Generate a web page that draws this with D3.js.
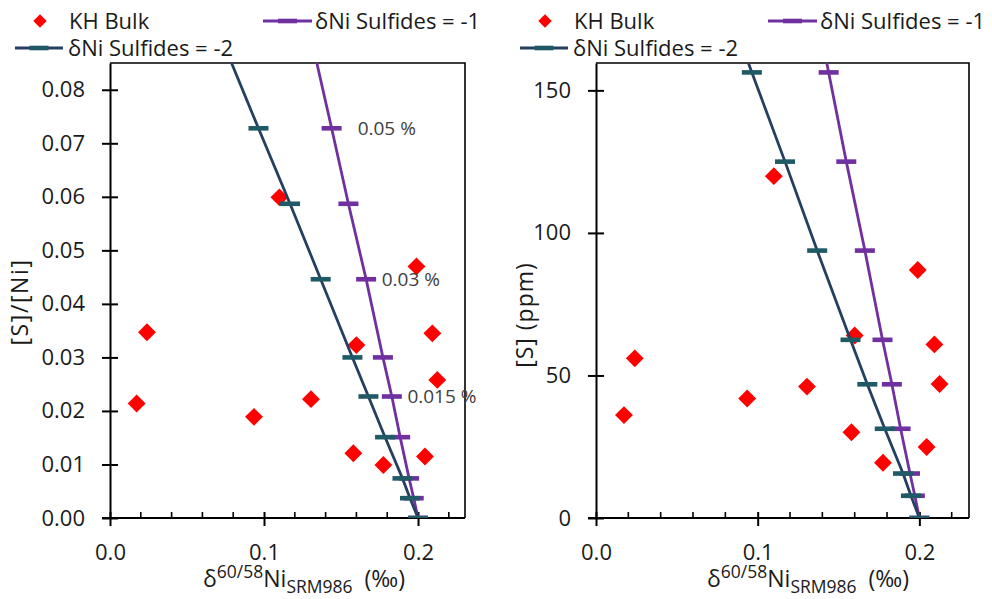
<!DOCTYPE html>
<html>
<head>
<meta charset="utf-8">
<script src="https://cdn.jsdelivr.net/npm/d3@7"></script>
<style>
body { margin: 0; background: #fff; }
svg { font-family: "Open Sans", sans-serif; }
</style>
</head>
<body>
<div id="chart"></div>
<script>
// KH bulk samples
var bulkDelta = [0.0173, 0.0240, 0.0935, 0.1100, 0.1305, 0.1580, 0.1600, 0.1775, 0.1990, 0.2045, 0.2093, 0.2125];
var bulkSNi   = [0.0214, 0.0347, 0.0189, 0.0599, 0.0222, 0.0121, 0.0323, 0.0099, 0.0470, 0.0115, 0.0345, 0.0258];
var bulkS     = [36.1, 56.0, 41.9, 119.9, 46.1, 30.1, 64.0, 19.4, 87.0, 24.9, 60.9, 47.0];

// sulfide removal model (sulfide %, last point runs off the top)
var sulfidePct   = [0, 0.0025, 0.005, 0.01, 0.015, 0.02, 0.03, 0.04, 0.05, 0.06];
var modelSNi     = [0, 0.0037, 0.0074, 0.0151, 0.0227, 0.0300, 0.0446, 0.0587, 0.0728, 0.0869];
var modelS       = [0, 7.8, 15.6, 31.3, 46.9, 62.5, 93.8, 125.0, 156.3, 187.5];
var modelDelta1  = [0.200, 0.1972, 0.1942, 0.1884, 0.1830, 0.1772, 0.1663, 0.1548, 0.1439, 0.1328];
var modelDelta2  = [0.200, 0.1948, 0.1899, 0.1786, 0.1678, 0.1574, 0.1368, 0.1169, 0.0964, 0.0762];

// % labels next to the -1 curve (left panel)
var pctLabelText  = ["0.05 %", "0.03 %", "0.015 %"];
var pctLabelIdx   = [8, 6, 4];
var pctLabelDelta = [0.1608, 0.1764, 0.1931];

var xMajor = [0, 0.1, 0.2];
var xMinor = [0.02, 0.04, 0.06, 0.08, 0.12, 0.14, 0.16, 0.18, 0.22];
var yTicksLeft  = [0, 0.01, 0.02, 0.03, 0.04, 0.05, 0.06, 0.07, 0.08];
var yTicksRight = [0, 50, 100, 150];

var purple = "#7030A0", navy = "#243F5F", teal = "#1F5A66", red = "#FF0000", ink = "#1a1a1a";

var svg = d3.select("#chart").append("svg")
    .attr("width", 992)
    .attr("height", 599);

function drawPanel(p) {
    var g = svg.append("g");
    var x = d3.scaleLinear().domain([0, p.xMax]).range([p.left, p.right]);
    var y = d3.scaleLinear().domain([0, p.yMax]).range([p.bottom, p.top]);

    g.append("clipPath").attr("id", p.id)
      .append("rect")
      .attr("x", p.left).attr("y", p.top)
      .attr("width", p.right - p.left).attr("height", p.bottom - p.top);

    // top + right frame
    g.append("path")
      .attr("d", "M" + p.left + "," + p.top + "H" + p.right + "V" + p.bottom)
      .attr("fill", "none").attr("stroke", "#000").attr("stroke-width", 1.6);

    // y axis
    var ya = g.append("g")
      .attr("transform", "translate(" + p.left + ",0)")
      .call(d3.axisLeft(y).tickValues(p.yTicks).tickFormat(p.yFmt).tickSizeOuter(0));
    ya.select(".domain").attr("stroke", "#000").attr("stroke-width", 2);
    ya.selectAll(".tick line").attr("x1", 8).attr("x2", -8).attr("stroke", "#000").attr("stroke-width", 2);
    ya.selectAll(".tick text").attr("x", -25).attr("font-size", 22).attr("fill", ink)
      .attr("font-family", "Open Sans, sans-serif");

    // x axis at y = 0
    var xa = g.append("g")
      .attr("transform", "translate(0," + p.bottom + ")")
      .call(d3.axisBottom(x).tickValues(xMajor).tickFormat(d3.format(".1f")).tickSizeOuter(0));
    xa.select(".domain").attr("d", "M" + (p.left - 8) + ",0H" + p.right).attr("stroke", "#000").attr("stroke-width", 2);
    xa.selectAll(".tick line").attr("y1", -6).attr("y2", 8).attr("stroke", "#000").attr("stroke-width", 2);
    xa.selectAll(".tick text").attr("y", 26).attr("font-size", 22).attr("fill", ink)
      .attr("font-family", "Open Sans, sans-serif");

    g.append("g").selectAll("line")
      .data(xMinor).enter().append("line")
      .attr("x1", function (d) { return x(d); })
      .attr("x2", function (d) { return x(d); })
      .attr("y1", p.bottom - 6).attr("y2", p.bottom)
      .attr("stroke", "#000").attr("stroke-width", 1.6);

    // bulk samples
    g.append("g").selectAll("path")
      .data(d3.range(bulkDelta.length)).enter().append("path")
      .attr("d", d3.symbol(d3.symbolSquare, 160))
      .attr("transform", function (i) { return "translate(" + x(bulkDelta[i]) + "," + y(p.bulkY[i]) + ") rotate(45)"; })
      .attr("fill", red);

    // model curves, -1 then -2 on top
    var series = [
        { dl: modelDelta1, line: purple, mark: purple },
        { dl: modelDelta2, line: navy, mark: teal }
    ];
    series.forEach(function (s) {
        var pts = d3.range(sulfidePct.length);
        var line = d3.line()
            .x(function (i) { return x(s.dl[i]); })
            .y(function (i) { return y(p.modelY[i]); });
        var sg = g.append("g").attr("clip-path", "url(#" + p.id + ")");
        sg.append("path").datum(pts)
          .attr("d", line)
          .attr("fill", "none").attr("stroke", s.line).attr("stroke-width", 2.8);
        sg.selectAll("rect")
          .data(pts).enter().append("rect")
          .attr("x", function (i) { return x(s.dl[i]) - 10; })
          .attr("y", function (i) { return y(p.modelY[i]) - 2.3; })
          .attr("width", 20).attr("height", 4.6)
          .attr("fill", s.mark);
    });

    if (p.labels) {
        g.append("g").selectAll("text")
          .data(d3.range(pctLabelText.length)).enter().append("text")
          .attr("x", function (i) { return x(pctLabelDelta[i]); })
          .attr("y", function (i) { return y(modelSNi[pctLabelIdx[i]]); })
          .attr("dy", "0.35em")
          .attr("font-size", 19).attr("fill", "#404040")
          .text(function (i) { return pctLabelText[i]; });
    }

    // y title
    g.append("text")
      .attr("transform", "translate(" + p.yTitleX + "," + p.yTitleY + ") rotate(-90)")
      .attr("text-anchor", "middle")
      .attr("dy", "0.35em")
      .attr("font-size", 23).attr("letter-spacing", p.yTitleSpacing).attr("fill", ink)
      .text(p.yTitle);

    // x title
    var xt = g.append("text")
      .attr("x", p.xTitleX).attr("y", 587)
      .attr("font-size", 23).attr("fill", ink);
    xt.append("tspan").text("δ");
    xt.append("tspan").attr("font-size", 17.5).attr("dy", -9).text("60/58");
    xt.append("tspan").attr("dy", 9).text("Ni");
    xt.append("tspan").attr("font-size", 17.5).attr("dy", 6).text("SRM986");
    xt.append("tspan").attr("dy", -6).attr("dx", 12).text("(‰)");

    // legend
    var lg = g.append("g").attr("transform", "translate(" + p.legendDx + ",0)");
    lg.append("path")
      .attr("d", d3.symbol(d3.symbolSquare, 90))
      .attr("transform", "translate(40,21) rotate(45)")
      .attr("fill", red);
    lg.append("text").attr("x", 69).attr("y", 28.5).attr("font-size", 22).attr("fill", ink).text("KH Bulk");
    lg.append("line").attr("x1", 263).attr("x2", 312).attr("y1", 21).attr("y2", 21)
      .attr("stroke", purple).attr("stroke-width", 2.8);
    lg.append("rect").attr("x", 278).attr("y", 18.7).attr("width", 19).attr("height", 4.6).attr("fill", purple);
    lg.append("text").attr("x", 315).attr("y", 28.5).attr("font-size", 22).attr("fill", ink).text("δNi Sulfides = -1");
    lg.append("line").attr("x1", 15).attr("x2", 63).attr("y1", 48).attr("y2", 48)
      .attr("stroke", navy).attr("stroke-width", 2.8);
    lg.append("rect").attr("x", 29.5).attr("y", 45.7).attr("width", 19).attr("height", 4.6).attr("fill", teal);
    lg.append("text").attr("x", 68).attr("y", 55.5).attr("font-size", 22).attr("fill", ink).text("δNi Sulfides = -2");
}

drawPanel({
    id: "clipL", left: 110, right: 465, top: 63, bottom: 518,
    xMax: 0.2305, yMax: 0.085,
    yTicks: yTicksLeft, yFmt: d3.format(".2f"),
    bulkY: bulkSNi, modelY: modelSNi, labels: true,
    yTitle: "[S]/[Ni]", yTitleX: 20, yTitleY: 302, yTitleSpacing: 1.6,
    xTitleX: 203, legendDx: 0
});

drawPanel({
    id: "clipR", left: 596, right: 969, top: 63, bottom: 518,
    xMax: 0.2307, yMax: 159.6,
    yTicks: yTicksRight, yFmt: d3.format("d"),
    bulkY: bulkS, modelY: modelS, labels: false,
    yTitle: "[S] (ppm)", yTitleX: 525, yTitleY: 315, yTitleSpacing: 1,
    xTitleX: 707, legendDx: 505
});
</script>
</body>
</html>
